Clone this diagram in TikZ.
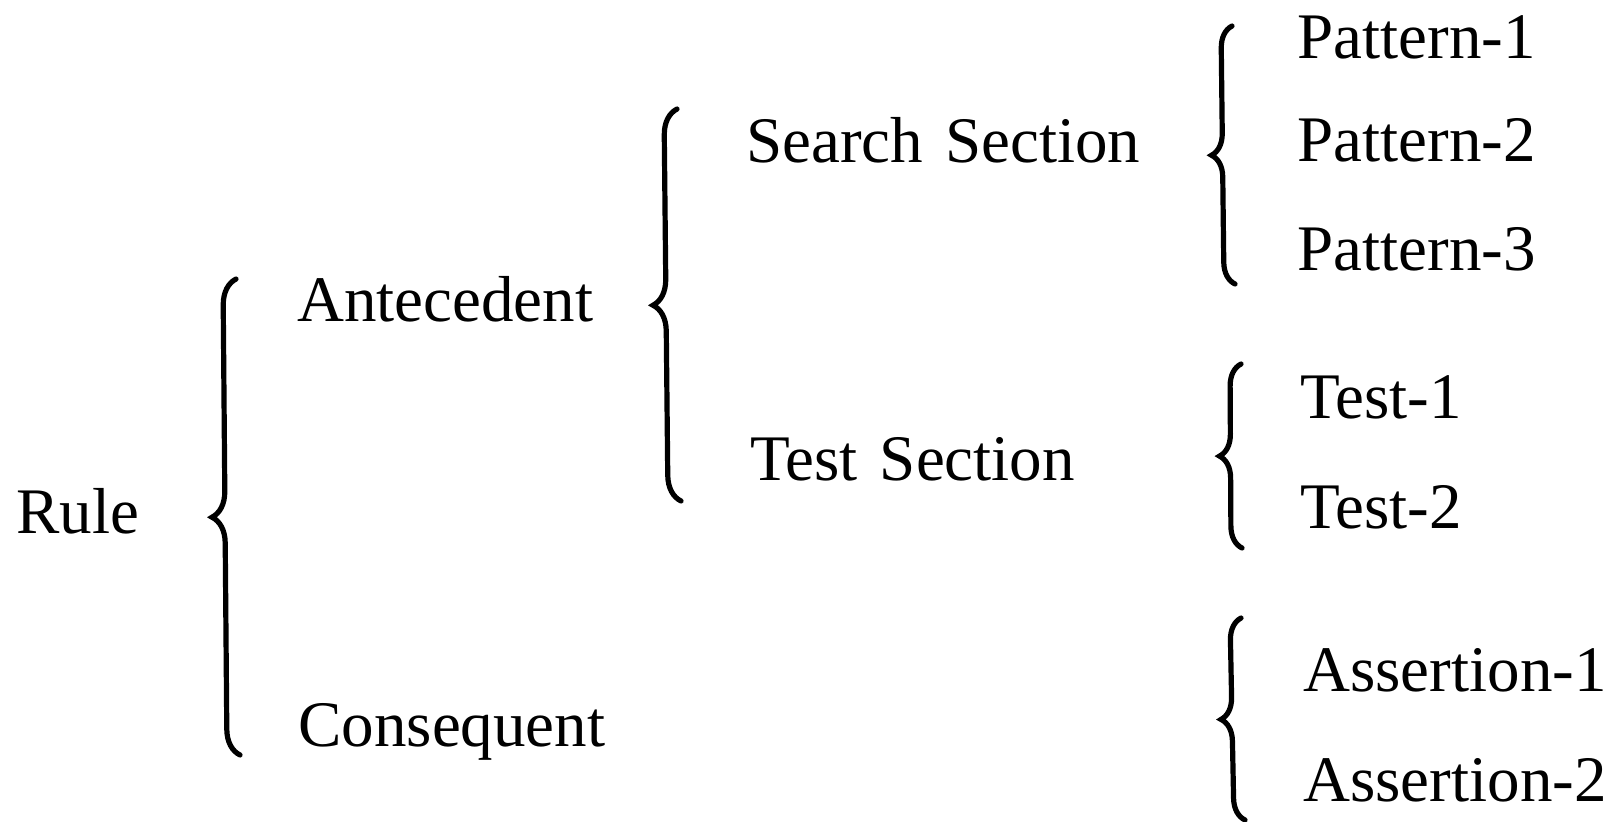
\documentclass[tikz,border=0pt]{standalone}
\usepackage{fontspec}
\setmainfont{Liberation Serif}
\usetikzlibrary{positioning,decorations.pathreplacing}

\begin{document}
\begin{tikzpicture}[x=0.5pt,y=-0.5pt,
  every node/.style={anchor=base west,inner sep=0pt,
    font=\fontsize{32.5}{39}\selectfont},
  grp/.style={decorate,decoration={brace,amplitude=#1},
    line width=2.6pt,line cap=round},
  grp/.default=11pt]
\useasboundingbox (0,0) rectangle (1621,822);

\node(rule) at (16,534) {Rule};
\node(ante) at (297,322) {Antecedent};
\node(cons) at (298,746) {Consequent};

\node(search) at (746,163) {Search\hspace{0.34em}Section};
\node(test)   at (750,481) {Test\hspace{0.34em}Section};

\node(pat1) at (1297,59)  {Pattern-1};
\node(pat2) at (1297,162) {Pattern-2};
\node(pat3) at (1297,271) {Pattern-3};
\node(tst1) at (1300,419) {Test-1};
\node(tst2) at (1300,529) {Test-2};
\node(ass1) at (1303,691) {Assertion-1};
\node(ass2) at (1303,801) {Assertion-2};

% brace ends
\coordinate(ruleTop) at (236,279);
\coordinate(ruleBot) at (240,755);
\coordinate(anteTop) at (677,109);
\coordinate(anteBot) at (681,501);
\coordinate(searchTop) at (1232,26);
\coordinate(searchBot) at (1235,284);
\coordinate(testTop) at (1241,364);
\coordinate(testBot) at (1242,548);
\coordinate(consTop) at (1241,618);
\coordinate(consBot) at (1245,820);

\draw[grp=13pt] (ruleBot) -- (ruleTop);
\draw[grp=13pt] (anteBot) -- (anteTop);
\draw[grp] (searchBot) -- (searchTop);
\draw[grp] (testBot)   -- (testTop);
\draw[grp] (consBot)   -- (consTop);
\end{tikzpicture}
\end{document}
